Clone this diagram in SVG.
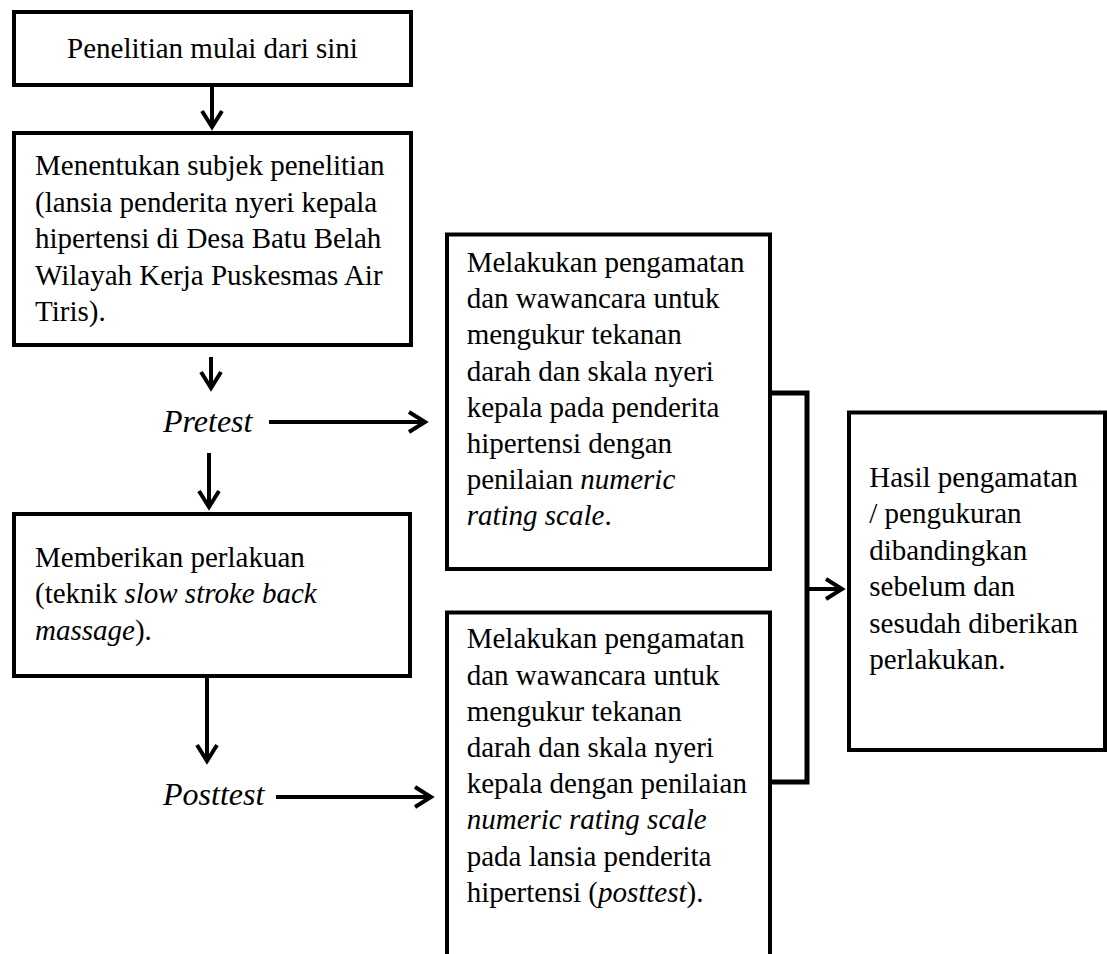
<svg xmlns="http://www.w3.org/2000/svg" width="1107" height="954" viewBox="0 0 1107 954">
<style>
.box{fill:#fff;stroke:#000;stroke-width:4}
.t{font-family:'Liberation Serif','DejaVu Serif',serif;font-size:29px;fill:#000}
.lbl{font-family:'Liberation Serif','DejaVu Serif',serif;font-size:32px;font-style:italic;fill:#000}
.c{fill:none;stroke:#000;stroke-width:4}
.br{fill:none;stroke:#000;stroke-width:5}
</style>
<defs>
<marker id="ah" markerUnits="userSpaceOnUse" markerWidth="30" markerHeight="30" viewBox="-25 -15 30 30" refX="0" refY="0" orient="auto">
<path d="M-16,-10 L0,0 L-16,10" fill="none" stroke="#000" stroke-width="4"/>
</marker>
</defs>
<rect width="1107" height="954" fill="#fff"/>
<g id="connectors">
<line class="c" x1="212" y1="87" x2="212" y2="127" marker-end="url(#ah)"/>
<line class="c" x1="211" y1="357" x2="211" y2="388" marker-end="url(#ah)"/>
<line class="c" x1="209" y1="453" x2="209" y2="507" marker-end="url(#ah)"/>
<line class="c" x1="207" y1="678" x2="207" y2="761" marker-end="url(#ah)"/>
<line class="c" x1="269" y1="422" x2="425" y2="422" marker-end="url(#ah)"/>
<line class="c" x1="276" y1="797" x2="431" y2="797" marker-end="url(#ah)"/>
<polyline class="br" points="772,393 807,393 807,782 772,782"/>
<line class="c" x1="807" y1="589" x2="842" y2="589" marker-end="url(#ah)"/>
</g>
<g id="start">
<rect class="box" x="14" y="12" width="397" height="73"/>
<text class="t" x="212.5" y="58" text-anchor="middle" font-family="Liberation Serif">Penelitian mulai dari sini</text>
</g>
<g id="subjek">
<rect class="box" x="14" y="133" width="397" height="212"/>
<text class="t" x="35"><tspan x="35" y="175">Menentukan subjek penelitian</tspan><tspan x="35" y="211.6">(lansia penderita nyeri kepala</tspan><tspan x="35" y="248.2">hipertensi di Desa Batu Belah</tspan><tspan x="35" y="284.8">Wilayah Kerja Puskesmas Air</tspan><tspan x="35" y="321.4">Tiris).</tspan></text>
</g>
<g id="pretest">
<text class="lbl" x="163" y="432">Pretest</text>
</g>
<g id="perlakuan">
<rect class="box" x="14" y="514" width="396" height="162"/>
<text class="t"><tspan x="35" y="566.7">Memberikan perlakuan</tspan><tspan x="35" y="603.3">(teknik <tspan font-style="italic">slow stroke back</tspan></tspan><tspan x="35" y="640"><tspan font-style="italic">massage</tspan>).</tspan></text>
</g>
<g id="posttest">
<text class="lbl" x="163" y="805">Posttest</text>
</g>
<g id="pengamatan-pre">
<rect class="box" x="447" y="234.5" width="323" height="334.5"/>
<text class="t"><tspan x="466.7" y="272">Melakukan pengamatan</tspan><tspan x="466.7" y="308.2">dan wawancara untuk</tspan><tspan x="466.7" y="344.4">mengukur tekanan</tspan><tspan x="466.7" y="380.6">darah dan skala nyeri</tspan><tspan x="466.7" y="416.8">kepala pada penderita</tspan><tspan x="466.7" y="453">hipertensi dengan</tspan><tspan x="466.7" y="489.2">penilaian <tspan font-style="italic">numeric</tspan></tspan><tspan x="466.7" y="525.4"><tspan font-style="italic">rating scale</tspan>.</tspan></text>
</g>
<g id="pengamatan-post">
<rect class="box" x="447" y="612.5" width="323" height="400"/>
<text class="t"><tspan x="466.7" y="648.3">Melakukan pengamatan</tspan><tspan x="466.7" y="684.5">dan wawancara untuk</tspan><tspan x="466.7" y="720.7">mengukur tekanan</tspan><tspan x="466.7" y="756.9">darah dan skala nyeri</tspan><tspan x="466.7" y="793.1">kepala dengan penilaian</tspan><tspan x="466.7" y="829.3" font-style="italic">numeric rating scale</tspan><tspan x="466.7" y="865.5">pada lansia penderita</tspan><tspan x="466.7" y="901.7">hipertensi (<tspan font-style="italic">posttest</tspan>).</tspan></text>
</g>
<g id="hasil">
<rect class="box" x="849" y="412.5" width="256" height="337.5"/>
<text class="t"><tspan x="869.3" y="486.5">Hasil pengamatan</tspan><tspan x="869.3" y="523">/ pengukuran</tspan><tspan x="869.3" y="559.5">dibandingkan</tspan><tspan x="869.3" y="596">sebelum dan</tspan><tspan x="869.3" y="632.5">sesudah diberikan</tspan><tspan x="869.3" y="669">perlakukan.</tspan></text>
</g>
</svg>
